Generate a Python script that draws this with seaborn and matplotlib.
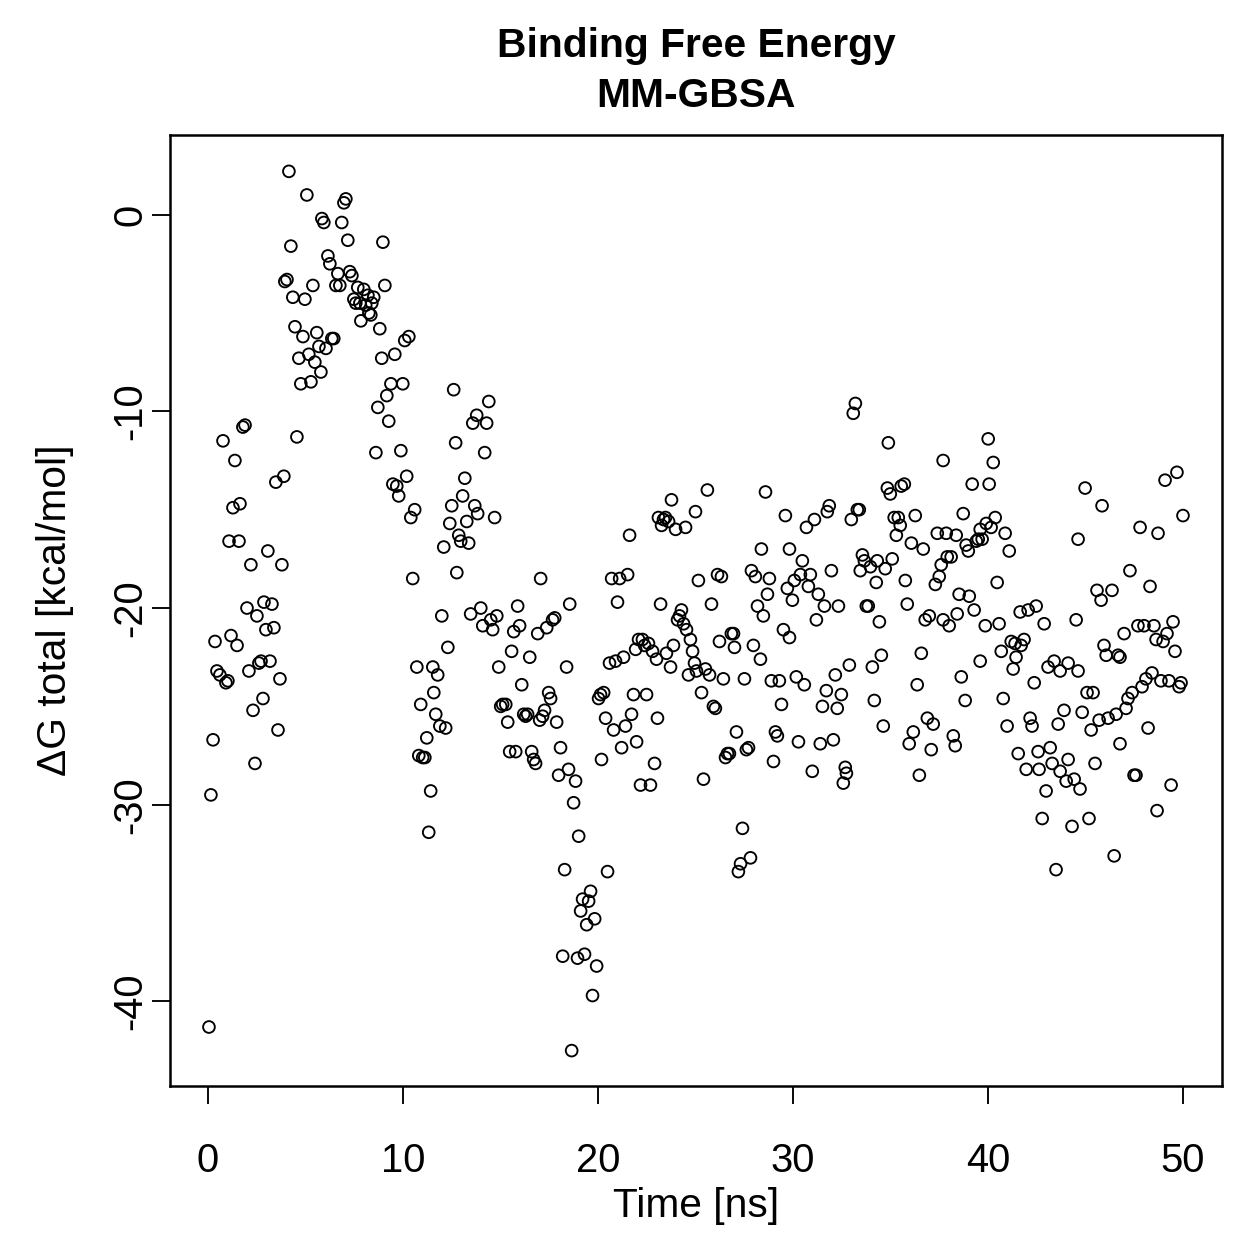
# -------------------------------------------------------
# MM-GBSA binding free energy vs simulation time
# -------------------------------------------------------

import seaborn as sns
import matplotlib.pyplot as plt
import pandas as pd

# simulation time [ns]
time_ns = [
    0.05, 0.15, 0.26, 0.36, 0.46, 0.61, 0.77, 0.92, 1.02, 1.08, 1.18, 1.28, 1.38, 1.49, 1.59, 1.64, 1.79, 1.90, 2.00, 2.10,
    2.20, 2.31, 2.41, 2.51, 2.61, 2.72, 2.82, 2.87, 2.97, 3.07, 3.18, 3.28, 3.38, 3.48, 3.59, 3.69, 3.79, 3.89, 3.94, 4.05,
    4.15, 4.25, 4.35, 4.46, 4.56, 4.66, 4.76,
    4.87, 4.97, 5.07, 5.17, 5.28, 5.38, 5.48, 5.58, 5.69, 5.79, 5.84, 5.94, 6.05, 6.15, 6.25, 6.35, 6.45, 6.56, 6.66, 6.76,
    6.86, 6.97, 7.07, 7.17, 7.27,
    7.38, 7.48, 7.58, 7.68, 7.79, 7.84, 7.99, 8.09, 8.20, 8.25, 8.35, 8.40, 8.50, 8.61, 8.71, 8.81, 8.91, 8.97, 9.07, 9.17,
    9.27, 9.38, 9.48, 9.58, 9.68, 9.78, 9.89,
    9.99, 10.09, 10.19, 10.30, 10.40, 10.50, 10.60, 10.71, 10.81, 10.91, 11.01, 11.12, 11.22, 11.32, 11.42, 11.53, 11.58,
    11.68, 11.78, 11.89, 11.99, 12.09, 12.19, 12.30, 12.40,
    12.50, 12.60, 12.70, 12.76, 12.86, 12.96, 13.06, 13.17, 13.27, 13.37, 13.47, 13.58, 13.68, 13.78, 13.83, 13.99, 14.09,
    14.19, 14.29, 14.40, 14.50, 14.60, 14.70, 14.81, 14.91, 15.01,
    15.11, 15.27, 15.37, 15.47, 15.57, 15.68, 15.78, 15.88, 15.98, 16.09, 16.19, 16.29, 16.39, 16.50, 16.60, 16.70, 16.80,
    16.91, 17.01, 17.06, 17.16, 17.26, 17.37, 17.47, 17.57,
    17.67, 17.78, 17.88, 17.98, 18.08, 18.19, 18.29, 18.39, 18.49, 18.55, 18.65, 18.75, 18.85, 18.95, 19.01, 19.11, 19.21,
    19.31, 19.42, 19.52, 19.62, 19.72, 19.83, 19.93, 20.03,
    20.13, 20.18, 20.29, 20.39, 20.49, 20.59, 20.70, 20.80, 20.90, 21.00, 21.11, 21.21, 21.31, 21.41, 21.52, 21.62, 21.72,
    21.82, 21.93, 21.98, 22.08, 22.18, 22.28, 22.39, 22.49, 22.59, 22.69,
    22.80, 22.90, 23.00, 23.05, 23.10, 23.21, 23.26, 23.36, 23.46, 23.51, 23.62, 23.72, 23.77, 23.87, 23.98, 24.08, 24.18,
    24.28, 24.39, 24.49, 24.54, 24.64, 24.74, 24.85, 24.95, 25.00, 25.05, 25.15,
    25.31, 25.41, 25.51, 25.61, 25.72, 25.82, 25.92, 26.02, 26.13, 26.23, 26.33, 26.43, 26.54, 26.64, 26.74, 26.84, 26.95,
    27.00, 27.10, 27.20, 27.31, 27.41, 27.51, 27.61, 27.72, 27.82,
    27.87, 27.97, 28.07, 28.18, 28.33, 28.38, 28.48, 28.59, 28.69, 28.79, 28.89, 29.00, 29.10, 29.20, 29.30, 29.41, 29.51,
    29.61, 29.71, 29.82, 29.82, 29.97, 30.07, 30.17, 30.28, 30.38,
    30.48, 30.58, 30.69, 30.79, 30.89, 30.99, 31.10, 31.20, 31.30, 31.40, 31.51, 31.61, 31.71, 31.76, 31.86, 31.97, 32.07,
    32.17, 32.27, 32.33, 32.48, 32.58, 32.68, 32.74, 32.89,
    32.99, 33.09, 33.20, 33.30, 33.40, 33.45, 33.56, 33.66, 33.76, 33.86, 33.97, 34.07, 34.17, 34.27, 34.32, 34.43, 34.53,
    34.63, 34.73, 34.84, 34.89, 34.99, 35.09, 35.19, 35.30, 35.40, 35.50,
    35.55, 35.71, 35.76, 35.86, 35.96, 36.07, 36.17, 36.27, 36.37, 36.48, 36.58, 36.68, 36.78, 36.89, 36.99, 37.09, 37.19,
    37.30, 37.40, 37.50, 37.60, 37.70, 37.70, 37.86, 37.91, 38.01,
    38.11, 38.22, 38.32, 38.37, 38.42, 38.52, 38.63, 38.73, 38.83, 38.88, 38.99, 39.04, 39.19, 39.29, 39.40, 39.50, 39.60,
    39.60, 39.70, 39.86, 39.91, 40.01, 40.06, 40.16, 40.27, 40.37, 40.47, 40.57,
    40.68, 40.78, 40.88, 40.98, 41.09, 41.19, 41.29, 41.39, 41.44, 41.55, 41.65, 41.70, 41.85, 41.96, 42.06, 42.16, 42.26,
    42.37, 42.47, 42.57, 42.62, 42.78, 42.88, 42.98, 43.08, 43.19,
    43.29, 43.39, 43.49, 43.60, 43.70, 43.70, 43.90, 44.01, 44.11, 44.11, 44.31, 44.42, 44.52, 44.62, 44.72, 44.62, 44.83,
    44.98, 45.08, 45.18, 45.29, 45.39, 45.49, 45.59, 45.70,
    45.80, 45.85, 45.95, 46.06, 46.16, 46.36, 46.47, 46.57, 46.67, 46.77, 46.77, 46.98, 47.08, 47.18, 47.28, 47.39, 47.49,
    47.59, 47.69, 47.80, 47.90, 48.00, 48.10, 48.21, 48.31, 48.41, 48.51, 48.62, 48.72, 48.67, 48.87, 48.98, 49.08, 49.18,
    49.28, 49.39, 49.49, 49.59, 49.69, 49.80, 49.90, 50.00,
]

# delta G total [kcal/mol]
dg_total = [
    -41.3, -29.5, -26.7, -21.7, -23.2, -23.4, -11.5, -23.8, -23.7, -16.6, -21.4, -14.9, -12.5, -21.9, -16.6, -14.7, -10.8, -10.7, -20.0, -23.2,
    -17.8, -25.2, -27.9, -20.4, -22.8, -22.7, -24.6, -19.7, -21.1, -17.1, -22.7, -19.8, -21.0, -13.6, -26.2, -23.6, -17.8, -13.3, -3.4, -3.3,
    2.2, -1.6, -4.2, -5.7, -11.3, -7.3, -8.6,
    -6.2, -4.3, 1.0, -7.1, -8.5, -3.6, -7.5, -6.0, -6.7, -8.0, -0.2, -0.4, -6.8, -2.1, -2.5, -6.3, -6.3, -3.6, -3.0, -3.6,
    -0.4, 0.6, 0.8, -1.3, -2.9,
    -3.1, -4.3, -4.5, -3.7, -4.5, -5.4, -3.8, -4.6, -4.1, -5.0, -5.1, -4.5, -4.2, -12.1, -9.8, -5.8, -7.3, -1.4, -3.6, -9.2,
    -10.5, -8.6, -13.7, -7.1, -13.8, -14.3, -12.0,
    -8.6, -6.4, -13.3, -6.2, -15.4, -18.5, -15.0, -23.0, -27.5, -24.9, -27.6, -27.6, -26.6, -31.4, -29.3, -23.0, -24.3,
    -25.4, -23.4, -26.0, -20.4, -16.9, -26.1, -22.0, -15.7,
    -14.8, -8.9, -11.6, -18.2, -16.3, -16.6, -14.3, -13.4, -15.6, -16.7, -20.3, -10.6, -14.8, -10.2, -15.2, -20.0, -20.9,
    -12.1, -10.6, -9.5, -20.6, -21.1, -15.4, -20.4, -23.0, -25.0,
    -24.9, -24.9, -25.8, -27.3, -22.2, -21.2, -27.3, -19.9, -20.9, -23.9, -25.4, -25.5, -25.4, -22.5, -27.3, -27.7, -27.9,
    -21.3, -25.7, -18.5, -25.5, -25.2, -21.0, -24.3, -24.6,
    -20.6, -20.5, -25.8, -28.5, -27.1, -37.7, -33.3, -23.0, -28.2, -19.8, -42.5, -29.9, -28.8, -37.8, -31.6, -35.4, -34.8,
    -37.6, -36.1, -34.9, -34.4, -39.7, -35.8, -38.2, -24.6,
    -24.4, -27.7, -24.3, -25.6, -33.4, -22.8, -18.5, -26.2, -22.7, -19.7, -18.5, -27.1, -22.5, -26.0, -18.3, -16.3, -25.4,
    -24.4, -22.1, -26.8, -21.6, -29.0, -21.6, -21.9, -24.4, -21.8, -29.0,
    -22.2, -27.9, -22.6, -25.6, -15.4, -19.8, -15.8, -15.5, -15.4, -22.3, -15.6, -23.0, -14.5, -21.9, -16.0, -20.6, -20.4,
    -20.1, -20.8, -15.9, -21.1, -23.4, -21.6, -22.2, -22.8, -15.1, -23.2, -18.6,
    -24.3, -28.7, -23.1, -14.0, -23.4, -19.8, -25.0, -25.1, -18.3, -21.7, -18.4, -23.6, -27.6, -27.4, -27.4, -21.3, -21.3,
    -22.0, -26.3, -33.4, -33.0, -31.2, -23.6, -27.2, -27.1, -32.7,
    -18.1, -21.9, -18.4, -19.9, -22.6, -17.0, -20.4, -14.1, -19.3, -18.5, -23.7, -27.8, -26.3, -26.5, -23.7, -24.9, -21.1,
    -15.3, -19.0, -21.5, -17.0, -19.6, -18.6, -23.5, -26.8, -18.3,
    -17.6, -23.9, -15.9, -18.9, -18.3, -28.3, -15.5, -20.6, -19.3, -26.9, -25.0, -19.9, -24.2, -15.1, -14.8, -18.1, -26.7,
    -23.4, -25.1, -19.9, -24.4, -28.9, -28.1, -28.4, -22.9,
    -15.5, -10.1, -9.6, -15.0, -15.0, -18.1, -17.3, -17.6, -19.9, -19.9, -17.9, -23.0, -24.7, -18.7, -17.6, -20.7, -22.4,
    -26.0, -18.0, -13.9, -11.6, -14.2, -17.5, -15.4, -16.3, -15.4, -15.8,
    -13.8, -13.7, -18.6, -19.8, -26.9, -16.7, -26.3, -15.3, -23.9, -28.5, -22.3, -17.0, -20.6, -25.6, -20.4, -27.2, -25.9,
    -18.8, -16.2, -18.4, -17.8, -20.6, -12.5, -16.2, -17.4, -20.9,
    -17.4, -26.5, -27.0, -16.3, -20.3, -19.3, -23.5, -15.2, -24.7, -16.8, -17.1, -19.4, -13.7, -20.1, -16.6, -16.5, -16.0,
    -22.7, -16.5, -20.9, -15.7, -11.4, -13.7, -15.9, -12.6, -15.4, -18.7, -20.8,
    -22.2, -24.6, -16.2, -26.0, -17.1, -21.7, -23.1, -21.8, -22.5, -27.4, -20.2, -21.9, -21.6, -28.2, -20.1, -25.6, -26.0,
    -23.8, -19.9, -27.3, -28.2, -30.7, -20.8, -29.3, -23.0, -27.1,
    -27.9, -22.7, -33.3, -25.9, -23.2, -28.3, -25.2, -28.8, -22.8, -27.7, -31.1, -28.7, -20.6, -23.2, -29.2, -16.5, -25.3,
    -13.9, -24.3, -30.7, -26.2, -24.3, -27.9, -19.1, -25.7,
    -19.6, -14.8, -21.9, -22.4, -25.6, -19.1, -32.6, -25.4, -22.4, -22.5, -26.9, -21.3, -25.1, -24.6, -18.1, -24.3, -28.5,
    -28.5, -20.9, -15.9, -24.0, -20.9, -23.6, -26.1, -18.9, -23.3, -20.9, -21.6, -16.2, -30.3, -23.7, -21.7, -13.5, -21.3,
    -23.7, -29.0, -20.7, -22.2, -13.1, -24.0, -23.8, -15.3,
]

x_ticks = [0, 10, 20, 30, 40, 50]
y_ticks = [-40, -30, -20, -10, 0]

df = pd.DataFrame({'time': time_ns, 'dg': dg_total})

sns.set_style('ticks')
plt.rcParams['font.family'] = ['Liberation Sans', 'DejaVu Sans']
plt.rcParams['axes.unicode_minus'] = False
plt.rcParams['text.color'] = 'black'
plt.rcParams['axes.labelcolor'] = 'black'

fig = plt.figure(figsize=(1259 / 180, 1259 / 180), dpi=180)
ax = fig.add_axes([0.135, 0.1374, 0.8356, 0.7554])

# open circles like R's pch=1
sns.scatterplot(data=df, x='time', y='dg', ax=ax, marker='o', s=22,
                facecolor='none', edgecolor='black', linewidth=0.75)

ax.set_xlim(-1.95, 52.0)
ax.set_ylim(-44.3, 4.05)
ax.set_xticks(x_ticks)
ax.set_yticks(y_ticks)
ax.set_yticklabels([str(v) for v in y_ticks], rotation=90, va='center')

for side in ['top', 'right', 'bottom', 'left']:
    ax.spines[side].set_visible(True)
    ax.spines[side].set_linewidth(1.0)
    ax.spines[side].set_color('black')

ax.tick_params(axis='both', direction='out', length=7.2, width=0.75,
               labelsize=16, colors='black')
ax.tick_params(axis='x', pad=15)
ax.tick_params(axis='y', pad=1)

ax.set_xlabel('Time [ns]', fontsize=16.3, labelpad=3, color='black')
ax.set_ylabel('ΔG total [kcal/mol]', fontsize=16.3, labelpad=15, color='black')
ax.set_title('Binding Free Energy\nMM-GBSA', fontsize=16.3, fontweight='bold',
             pad=11, linespacing=1.4, color='black')

fig.savefig('out.png', dpi=180, facecolor='white')
